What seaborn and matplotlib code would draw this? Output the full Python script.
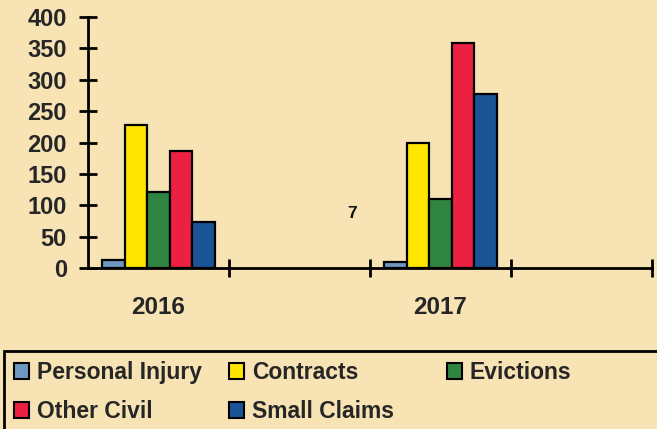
import matplotlib
matplotlib.use("Agg")
import matplotlib.pyplot as plt
import seaborn as sns
import pandas as pd
from matplotlib.patches import Rectangle, Patch

# ---- data ----
year_slots = ["2016", " ", "2017", "  "]
year_labels = ["2016", "", "2017", ""]
categories = ["Personal Injury", "Contracts", "Evictions", "Other Civil", "Small Claims"]
vals_2016 = [13, 228, 121, 187, 73]
vals_2017 = [10, 200, 110, 358, 277]
y_ticks = [0, 50, 100, 150, 200, 250, 300, 350, 400]
colors = ["#6F98C0", "#FFE600", "#2F8540", "#EC2040", "#1B5496"]
legend_columns = [["Personal Injury", "Other Civil"],
                  ["Contracts", "Small Claims"],
                  ["Evictions"]]
bg = "#F8E3B4"

sns.set_theme(style="white")
plt.rcParams["font.family"] = ["Liberation Sans", "DejaVu Sans"]
plt.rcParams["font.weight"] = "bold"

df = pd.DataFrame({
    "year": ["2016"] * len(categories) + ["2017"] * len(categories),
    "type": categories * 2,
    "count": vals_2016 + vals_2017,
})

fig = plt.figure(figsize=(6.57, 4.29), dpi=100, facecolor=bg)
ax = fig.add_axes([88 / 657, 1 - 268 / 429, (652 - 88) / 657, (268 - 17) / 429])
ax.set_facecolor(bg)

sns.barplot(data=df, x="year", y="count", hue="type", order=year_slots,
            hue_order=categories, palette=colors, width=0.8,
            edgecolor="black", linewidth=1.6, saturation=1, ax=ax, legend=False)

ax.set_xlim(-0.5, 3.5)
ax.set_ylim(0, 400)
ax.set_yticks(y_ticks)
ax.set_yticklabels([str(v) for v in y_ticks], fontsize=17, fontweight="bold")
ax.set_xticks(range(len(year_slots)))
ax.set_xticklabels(year_labels, fontsize=17.5, fontweight="bold")
ax.set_xticks([i + 0.5 for i in range(len(year_slots))], minor=True)
ax.tick_params(axis="x", which="major", length=0, pad=20, bottom=True)
ax.tick_params(axis="x", which="minor", direction="inout", length=13, width=2,
               color="black", bottom=True)
ax.tick_params(axis="y", direction="inout", length=12.5, width=2, color="black",
               pad=9, left=True)
ax.set_xlabel("")
ax.set_ylabel("")
for s in ["top", "right"]:
    ax.spines[s].set_visible(False)
for s in ["left", "bottom"]:
    ax.spines[s].set_color("black")
    ax.spines[s].set_linewidth(2)

fig.text(352 / 657, 1 - 214 / 429, "7", fontsize=12.5, fontweight="bold",
         ha="center", va="center", color="#111111")

# legend: one column per legend so column positions match the reference
handles = {c: Patch(facecolor=col, edgecolor="black", linewidth=1.5)
           for c, col in zip(categories, colors)}
col_x = [14, 229, 447]
for names, x in zip(legend_columns, col_x):
    fig.legend([handles[c] for c in names], names, loc="upper left",
               bbox_to_anchor=(x / 657, 1 - 361 / 429), frameon=False,
               handlelength=0.65, handleheight=0.65, handletextpad=0.35,
               labelspacing=0.7, borderaxespad=0, borderpad=0,
               prop={"weight": "bold", "size": 16.5})
fig.add_artist(Rectangle((4 / 657, -0.1), 1.0, 0.1 + (1 - 351 / 429),
                         transform=fig.transFigure, fill=False,
                         edgecolor="black", linewidth=2))

fig.savefig("out.png", dpi=100, facecolor=bg)
